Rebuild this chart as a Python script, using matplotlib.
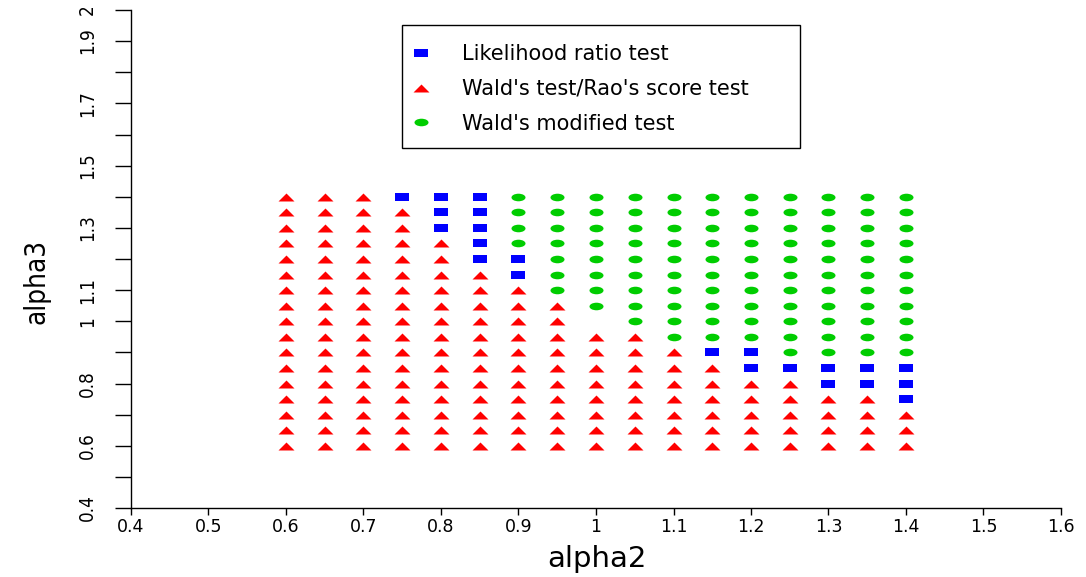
import numpy as np
import matplotlib
matplotlib.use("Agg")
import matplotlib.pyplot as plt
from matplotlib.path import Path
from matplotlib.lines import Line2D
from matplotlib.patches import Rectangle
from matplotlib.transforms import Affine2D
from matplotlib import font_manager

# ---------------- data ----------------
alpha2 = [0.60, 0.65, 0.70, 0.75, 0.80, 0.85, 0.90, 0.95, 1.00,
          1.05, 1.10, 1.15, 1.20, 1.25, 1.30, 1.35, 1.40]
alpha3 = [1.40, 1.35, 1.30, 1.25, 1.20, 1.15, 1.10, 1.05, 1.00,
          0.95, 0.90, 0.85, 0.80, 0.75, 0.70, 0.65, 0.60]   # top -> bottom
# best test per grid cell, one string per alpha2 column (rows follow alpha3)
# S = Likelihood ratio, T = Wald/Rao score, C = Wald modified, . = none
best_test = [
    "TTTTTTTTTTTTTTTTT",  # 0.60
    "TTTTTTTTTTTTTTTTT",  # 0.65
    "TTTTTTTTTTTTTTTTT",  # 0.70
    "STTTTTTTTTTTTTTTT",  # 0.75
    "SSSTTTTTTTTTTTTTT",  # 0.80
    "SSSSSTTTTTTTTTTTT",  # 0.85
    "CCCCSSTTTTTTTTTTT",  # 0.90
    "CCCCCCCTTTTTTTTTT",  # 0.95
    "CCCCCCCC.TTTTTTTT",  # 1.00
    "CCCCCCCCCTTTTTTTT",  # 1.05
    "CCCCCCCCCCTTTTTTT",  # 1.10
    "CCCCCCCCCCSTTTTTT",  # 1.15
    "CCCCCCCCCCSSTTTTT",  # 1.20
    "CCCCCCCCCCCSTTTTT",  # 1.25
    "CCCCCCCCCCCSSTTTT",  # 1.30
    "CCCCCCCCCCCSSTTTT",  # 1.35
    "CCCCCCCCCCCSSSTTT",  # 1.40
]
legend_labels = ["Likelihood ratio test", "Wald's test/Rao's score test",
                 "Wald's modified test"]
x_ticks = [0.4, 0.5, 0.6, 0.7, 0.8, 0.9, 1.0, 1.1, 1.2, 1.3, 1.4, 1.5, 1.6]
x_ticklabels = ["0.4", "0.5", "0.6", "0.7", "0.8", "0.9", "1", "1.1", "1.2",
                "1.3", "1.4", "1.5", "1.6"]
y_ticks = [0.4, 0.5, 0.6, 0.7, 0.8, 0.9, 1.0, 1.1, 1.2, 1.3, 1.4, 1.5, 1.6,
           1.7, 1.8, 1.9, 2.0]
y_ticklabels = ["0.4", "", "0.6", "", "0.8", "", "1", "1.1", "", "1.3", "",
                "1.5", "", "1.7", "", "1.9", "2"]

# ---------------- narrow font for the vertical axis ----------------
names = {f.name for f in font_manager.fontManager.ttflist}
if "Liberation Sans Narrow" in names:
    narrow = dict(family="Liberation Sans Narrow")
else:
    narrow = dict(family="DejaVu Sans", stretch="condensed")

# ---------------- markers (stretched shapes as in the reference) ----------------
tri_path = Path([(-1.0, -0.5), (1.0, -0.5), (0.0, 0.5), (-1.0, -0.5)],
                [Path.MOVETO, Path.LINETO, Path.LINETO, Path.CLOSEPOLY])
sq_path = Path([(-1.0, -0.54), (1.0, -0.54), (1.0, 0.54), (-1.0, 0.54), (-1.0, -0.54)],
               [Path.MOVETO, Path.LINETO, Path.LINETO, Path.LINETO, Path.CLOSEPOLY])
circ = Path.unit_circle()
ell_path = Path(Affine2D().scale(1.0, 0.54).transform(circ.vertices), circ.codes)

styles = {
    "S": dict(marker=sq_path, color="#0000FF", ms=9.4),
    "T": dict(marker=tri_path, color="#FF0000", ms=11.5),
    "C": dict(marker=ell_path, color="#00CD00", ms=10.1),
}

fig = plt.figure(figsize=(10.86, 5.77), dpi=100)
ax = fig.add_axes([131 / 1086, (577 - 508) / 577, 930 / 1086, 498 / 577])

for code, st in styles.items():
    xs, ys = [], []
    for i, col in enumerate(best_test):
        for j, c in enumerate(col):
            if c == code:
                xs.append(alpha2[i])
                ys.append(alpha3[j])
    ax.plot(xs, ys, ls="none", marker=st["marker"], color=st["color"],
            ms=st["ms"], mew=0, clip_on=False)

ax.set_xlim(0.4, 1.6)
ax.set_ylim(0.4, 2.0)
for s in ["top", "right"]:
    ax.spines[s].set_visible(False)
for s in ["left", "bottom"]:
    ax.spines[s].set_linewidth(1.0)
    ax.spines[s].set_color("black")

ax.set_xticks(x_ticks)
ax.set_xticklabels(x_ticklabels, fontsize=12.5, family="DejaVu Sans")
ax.set_yticks(y_ticks)
ax.set_yticklabels(y_ticklabels, fontsize=13.5, rotation=90, va="center", **narrow)
ax.tick_params(axis="x", direction="out", length=5, width=1, pad=2)
ax.tick_params(axis="y", direction="out", length=11.5, width=1, pad=13)

ax.set_xlabel("alpha2", fontsize=21, family="DejaVu Sans", va="top")
ax.xaxis.set_label_coords(0.501, -0.074)
ax.set_ylabel("alpha3", fontsize=20, **narrow)
ax.yaxis.set_label_coords(-0.087, 0.454)

# legend
handles = [Line2D([], [], ls="none", marker=styles[k]["marker"],
                  color=styles[k]["color"], ms=styles[k]["ms"], mew=0)
           for k in ["S", "T", "C"]]
fig.patches.append(Rectangle((402 / 1086, 1 - 148 / 577), 398 / 1086, 123 / 577,
                             transform=fig.transFigure, fill=False,
                             edgecolor="black", lw=1.0))
fig.legend(handles, legend_labels, loc="upper left",
           bbox_to_anchor=(400 / 1086, 1 - 44 / 577),
           bbox_transform=fig.transFigure, frameon=False,
           prop={"family": "DejaVu Sans", "size": 15},
           borderpad=0, borderaxespad=0, handlelength=2.0,
           handletextpad=1.0, labelspacing=0.71)

fig.savefig("out.png", dpi=100)
